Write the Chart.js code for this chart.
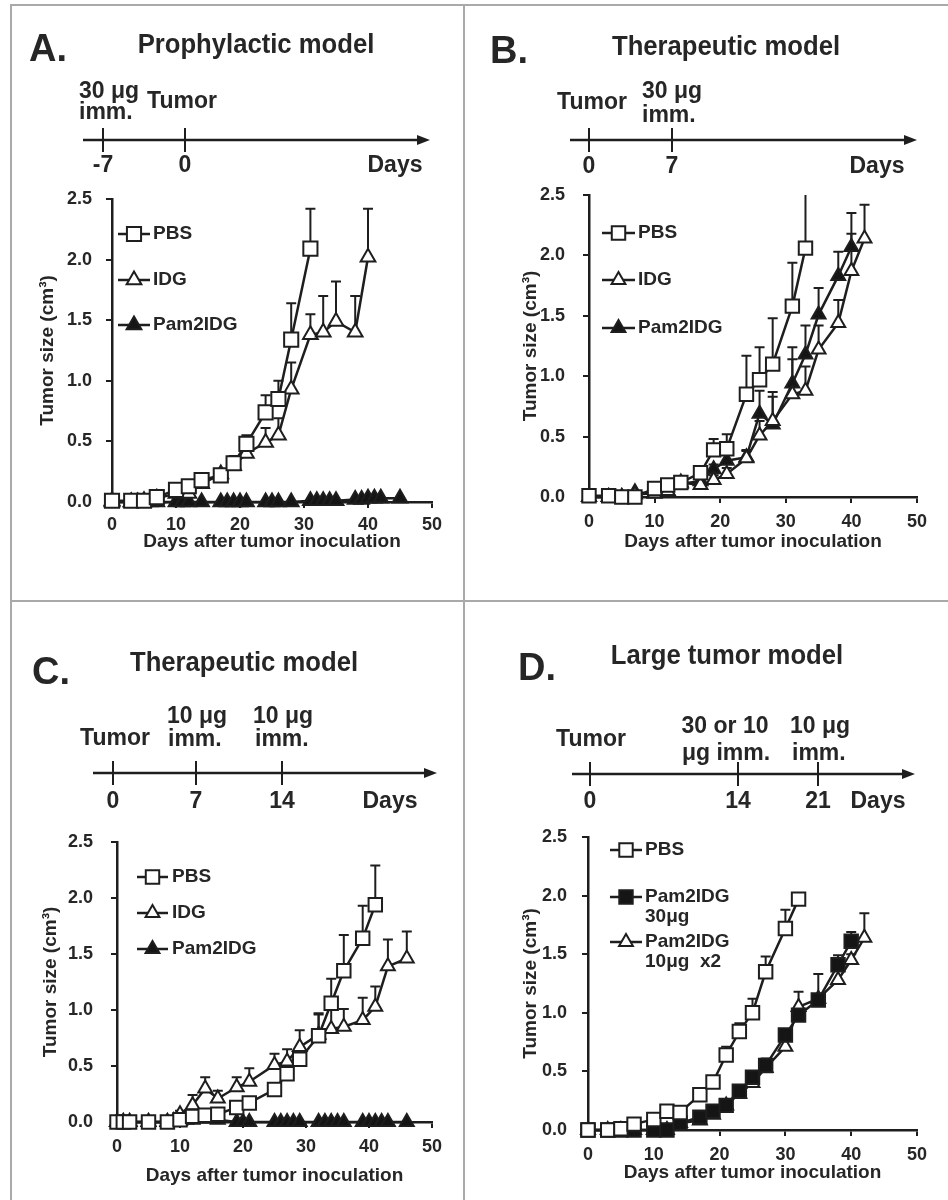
<!DOCTYPE html>
<html>
<head>
<meta charset="utf-8" />
<title>Tumor growth after immunization</title>
<style>
  body { margin: 0; background: #fff; }
  #fig { position: relative; width: 948px; height: 1200px; overflow: hidden; background: #fff; }
  #fig canvas { position: absolute; }
  .rule { position: absolute; background: #a9a9a9; }
  .txt { position: absolute; white-space: pre; line-height: 1; color: #262626;
         font-family: "Liberation Sans", Arial, Helvetica, sans-serif; font-weight: bold;
         transform: translate(-50%, -50%) scaleX(var(--sx, 1)); }
  .txt.left { transform-origin: 0 50%; transform: translate(0, -50%) scaleX(var(--sx, 1)); }
  .letter { font-size: 38px; }
  .title { font-size: 27px; --sx: 0.95; }
  .tl { font-size: 23px; }
</style>
</head>
<body>
<div id="fig">
  <div class="rule" style="left:10px; top:4px; width:938px; height:2px;"></div>
  <div class="rule" style="left:10px; top:4px; width:2px; height:1196px;"></div>
  <div class="rule" style="left:463px; top:4px; width:2px; height:1196px;"></div>
  <div class="rule" style="left:10px; top:600px; width:938px; height:2px;"></div>
</div>

<script src="https://cdn.jsdelivr.net/npm/chart.js"></script>
<script>
// tick labels shared by all four plots
const dayTicks = [0, 10, 20, 30, 40, 50];
const sizeTicks = [0, 0.5, 1.0, 1.5, 2.0, 2.5];

// A. prophylactic model
const daysA = [0, 3, 5, 7, 10, 12, 14, 17, 19, 21, 24, 26, 28, 31, 33, 35, 38, 40];
const pbsA = [0.01, 0.01, 0.01, 0.04, 0.10, 0.13, 0.18, 0.22, 0.32, 0.48, 0.74, 0.85, 1.34, 2.09];
const pbsErrA = [0.01, 0.01, 0.01, 0.01, 0.02, 0.02, 0.03, 0.04, 0.06, 0.07, 0.14, 0.15, 0.30, 0.33];
const idgA = [0.01, 0.00, 0.01, 0.03, 0.07, 0.07, 0.15, 0.23, 0.30, 0.40, 0.49, 0.55, 0.93, 1.38, 1.40, 1.49, 1.40, 2.02];
const idgErrA = [0.01, 0.00, 0.01, 0.01, 0.02, 0.02, 0.03, 0.03, 0.04, 0.05, 0.12, 0.14, 0.22, 0.17, 0.30, 0.33, 0.30, 0.40];
const pamDaysA = [0, 3, 4, 5, 6, 7, 10, 11, 12, 14, 17, 18, 19, 20, 21, 24, 25, 26, 28, 31, 32, 33, 34, 35, 38, 39, 40, 41, 42, 45];
const pamA = [0, 0, 0, 0, 0, 0, 0, 0, 0, 0, 0, 0, 0, 0, 0, 0, 0, 0, 0, 0.01, 0.01, 0.01, 0.01, 0.01, 0.02, 0.02, 0.03, 0.03, 0.03, 0.03];

// B. therapeutic model, 30 ug on day 7
const daysB = [0, 3, 5, 7, 10, 12, 14, 17, 19, 21, 24, 26, 28, 31, 33, 35, 38, 40, 42];
const pbsB = [0.01, 0.01, 0.00, 0.00, 0.07, 0.10, 0.12, 0.20, 0.39, 0.40, 0.85, 0.97, 1.10, 1.58, 2.06];
const pbsErrB = [0.01, 0.01, 0.01, 0.01, 0.02, 0.02, 0.03, 0.04, 0.09, 0.12, 0.32, 0.27, 0.38, 0.36, 0.60];
const idgB = [0, 0, 0, 0.02, 0.03, 0.05, 0.12, 0.10, 0.14, 0.19, 0.32, 0.51, 0.63, 0.85, 0.88, 1.22, 1.44, 1.87, 2.14];
const idgErrB = [0, 0, 0, 0.01, 0.01, 0.02, 0.03, 0.03, 0.04, 0.05, 0.06, 0.12, 0.20, 0.29, 0.20, 0.20, 0.19, 0.31, 0.28];
const pamB = [0, 0, 0, 0.04, 0.03, 0.05, 0.11, 0.13, 0.23, 0.30, 0.33, 0.69, 0.60, 0.94, 1.18, 1.51, 1.83, 2.07];
const pamErrB = [0, 0, 0, 0.01, 0.01, 0.02, 0.03, 0.03, 0.04, 0.05, 0.06, 0.19, 0.27, 0.30, 0.24, 0.22, 0.20, 0.28];

// C. therapeutic model, 10 ug on days 7 and 14
const daysC = [0, 1, 2, 5, 8, 10, 12, 14, 16, 19, 21, 25, 27, 29, 32, 34, 36, 39, 41, 43, 46];
const pbsC = [0, 0, 0, 0, 0, 0.02, 0.05, 0.06, 0.07, 0.13, 0.17, 0.29, 0.43, 0.56, 0.77, 1.06, 1.35, 1.64, 1.94];
const pbsErrC = [0, 0, 0, 0, 0, 0.01, 0.02, 0.02, 0.02, 0.03, 0.03, 0.04, 0.05, 0.07, 0.20, 0.22, 0.32, 0.29, 0.35];
const idgC = [0, 0, 0, 0, 0, 0.07, 0.15, 0.30, 0.21, 0.31, 0.36, 0.51, 0.54, 0.67, 0.78, 0.83, 0.85, 0.91, 1.03, 1.39, 1.46];
const idgErrC = [0, 0, 0, 0, 0, 0.03, 0.09, 0.10, 0.07, 0.09, 0.12, 0.10, 0.11, 0.15, 0.18, 0.18, 0.16, 0.20, 0.18, 0.24, 0.24];
const pamDaysC = [0, 1, 2, 5, 8, 9, 10, 11, 12, 14, 16, 19, 20, 21, 25, 26, 27, 28, 29, 32, 33, 34, 35, 36, 39, 40, 41, 42, 43, 46];
const pamC = [0, 0, 0, 0, 0, 0.01, 0.01, 0.02, 0.02, 0.03, 0.02, 0, 0, 0, 0, 0, 0, 0, 0, 0, 0, 0, 0, 0, 0, 0, 0, 0, 0, 0];

// D. large tumor model
const daysD = [0, 3, 5, 7, 10, 12, 14, 17, 19, 21, 23, 25, 27, 30, 32, 35, 38, 40, 42];
const pbsD = [0, 0, 0.01, 0.05, 0.09, 0.16, 0.15, 0.30, 0.41, 0.64, 0.84, 1.00, 1.35, 1.72, 1.97];
const pbsErrD = [0, 0, 0, 0.01, 0.01, 0.01, 0.02, 0.02, 0.03, 0.07, 0.07, 0.12, 0.13, 0.16, 0.02];
const pam30D = [0, 0, 0, 0, 0, 0, 0.06, 0.11, 0.16, 0.21, 0.33, 0.45, 0.55, 0.81, 0.98, 1.11, 1.41, 1.61];
const pam30ErrD = [0, 0, 0, 0, 0, 0, 0.01, 0.01, 0.01, 0.02, 0.02, 0.03, 0.06, 0.04, 0.04, 0.05, 0.08, 0.08];
const pam10D = [0, 0, 0, 0, 0, 0, 0.06, 0.08, 0.13, 0.21, 0.31, 0.40, 0.53, 0.71, 1.05, 1.12, 1.28, 1.45, 1.64];
const pam10ErrD = [0, 0, 0, 0, 0, 0, 0.01, 0.01, 0.02, 0.02, 0.03, 0.03, 0.07, 0.06, 0.13, 0.21, 0.10, 0.05, 0.21];

const INK = '#1e1e1e';
const TEXT = '#262626';
const FAMILY = '"Liberation Sans", Arial, Helvetica, sans-serif';
Chart.defaults.font.family = FAMILY;
Chart.defaults.font.weight = 'bold';
Chart.defaults.color = TEXT;

const fig = document.getElementById('fig');

function pts(days, vals) {
    return vals.map((v, i) => ({ x: days[i], y: v }));
}

function series(label, days, vals, errs, style, filled, radius) {
    return {
        label: label,
        data: pts(days, vals),
        errors: errs,
        borderColor: INK,
        borderWidth: 2.5,
        pointStyle: style,
        pointRadius: radius,
        pointBorderWidth: 2,
        pointBorderColor: INK,
        pointBackgroundColor: filled ? '#151515' : '#ffffff',
        tension: 0,
        clip: false
    };
}

// upper SD bars, drawn under the markers
const errorBars = {
    id: 'errorBars',
    beforeDatasetsDraw(chart) {
        const { ctx, chartArea } = chart;
        const xs = chart.scales.x, ys = chart.scales.y;
        ctx.save();
        ctx.strokeStyle = INK;
        ctx.lineWidth = 2;
        chart.data.datasets.forEach(ds => {
            if (!ds.errors) return;
            ds.data.forEach((p, i) => {
                const e = ds.errors[i];
                if (!e) return;
                const px = xs.getPixelForValue(p.x);
                const y0 = ys.getPixelForValue(p.y);
                let y1 = ys.getPixelForValue(p.y + e);
                const capped = y1 >= chartArea.top;
                if (!capped) y1 = chartArea.top;
                ctx.beginPath();
                ctx.moveTo(px, y0);
                ctx.lineTo(px, y1);
                if (capped) {
                    ctx.moveTo(px - 5, y1);
                    ctx.lineTo(px + 5, y1);
                }
                ctx.stroke();
            });
        });
        ctx.restore();
    }
};

function marker(ctx, style, r, cx, cy) {
    ctx.beginPath();
    if (style === 'rect') {
        const s = r * Math.SQRT1_2;
        ctx.rect(cx - s, cy - s, 2 * s, 2 * s);
    } else {
        ctx.moveTo(cx, cy - r);
        ctx.lineTo(cx + r * 0.866, cy + r * 0.5);
        ctx.lineTo(cx - r * 0.866, cy + r * 0.5);
        ctx.closePath();
    }
    ctx.fill();
    ctx.stroke();
}

// legend inside the plot: line - marker - line, then the name
const inLegend = {
    id: 'inLegend',
    afterDatasetsDraw(chart, args, o) {
        const ctx = chart.ctx;
        ctx.save();
        ctx.font = 'bold 19px ' + FAMILY;
        ctx.textBaseline = 'middle';
        o.items.forEach(it => {
            const ds = chart.data.datasets[it.index];
            const y = it.y - o.oy;
            const x0 = o.x0 - o.ox, x1 = o.x1 - o.ox;
            ctx.strokeStyle = INK;
            ctx.lineWidth = ds.borderWidth;
            ctx.beginPath();
            ctx.moveTo(x0, y);
            ctx.lineTo(x1, y);
            ctx.stroke();
            ctx.lineWidth = ds.pointBorderWidth;
            ctx.fillStyle = ds.pointBackgroundColor;
            marker(ctx, ds.pointStyle, ds.pointRadius, (x0 + x1) / 2, y);
            ctx.fillStyle = TEXT;
            ds.label.split('\n').forEach((line, k) => {
                ctx.fillText(line, o.tx - o.ox, y + k * o.gap);
            });
        });
        ctx.restore();
    }
};

// treatment schedule arrow above each plot
const timeline = {
    id: 'timeline',
    afterDraw(chart, args, o) {
        const ctx = chart.ctx;
        const y = o.y - o.oy;
        const x0 = o.x0 - o.ox, x1 = o.x1 - o.ox;
        ctx.save();
        ctx.strokeStyle = INK;
        ctx.fillStyle = INK;
        ctx.lineWidth = 2.5;
        ctx.beginPath();
        ctx.moveTo(x0, y);
        ctx.lineTo(x1 - 8, y);
        ctx.stroke();
        ctx.beginPath();
        ctx.moveTo(x1, y);
        ctx.lineTo(x1 - 13, y - 5);
        ctx.lineTo(x1 - 13, y + 5);
        ctx.closePath();
        ctx.fill();
        ctx.lineWidth = 2;
        o.marks.forEach(m => {
            ctx.beginPath();
            ctx.moveTo(m - o.ox, y - 12);
            ctx.lineTo(m - o.ox, y + 12);
            ctx.stroke();
        });
        ctx.restore();
    }
};

function text(str, x, y, cls, left) {
    const el = document.createElement('span');
    el.className = 'txt ' + cls + (left ? ' left' : '');
    el.textContent = str;
    el.style.left = x + 'px';
    el.style.top = y + 'px';
    fig.appendChild(el);
}

function makePanel(p) {
    const [cx, cy, cw, ch] = p.box;
    const [L, T, R, B] = p.area;
    const cv = document.createElement('canvas');
    cv.width = cw;
    cv.height = ch;
    cv.style.left = cx + 'px';
    cv.style.top = cy + 'px';
    cv.style.width = cw + 'px';
    cv.style.height = ch + 'px';
    fig.appendChild(cv);

    p.legend.ox = cx;
    p.legend.oy = cy;
    p.timeline.ox = cx;
    p.timeline.oy = cy;

    return new Chart(cv, {
        type: 'line',
        data: { datasets: p.datasets },
        plugins: [errorBars, inLegend, timeline],
        options: {
            responsive: false,
            animation: false,
            events: [],
            layout: {
                padding: { left: 0, top: T - cy, right: cx + cw - R, bottom: cy + ch - B - p.xTitleH }
            },
            plugins: {
                legend: { display: false },
                tooltip: { enabled: false },
                inLegend: p.legend,
                timeline: p.timeline
            },
            scales: {
                x: {
                    type: 'linear',
                    min: 0,
                    max: 50,
                    afterBuildTicks: s => { s.ticks = dayTicks.map(v => ({ value: v })); },
                    afterFit: s => { s.height = p.xTitleH; },
                    ticks: { font: { size: 18, weight: 'bold' }, color: TEXT, padding: p.xPad, maxRotation: 0, autoSkip: false },
                    grid: { drawOnChartArea: false, drawTicks: true, tickLength: 6, color: INK, lineWidth: 2 },
                    border: { color: INK, width: 2.5 },
                    title: {
                        display: true,
                        text: 'Days after tumor inoculation',
                        font: { size: 19, weight: 'bold' },
                        color: TEXT,
                        padding: { top: 0, bottom: 0 }
                    }
                },
                y: {
                    min: 0,
                    max: 2.5,
                    afterBuildTicks: s => { s.ticks = sizeTicks.map(v => ({ value: v })); },
                    afterFit: s => { s.width = L - cx; },
                    ticks: { font: { size: 18, weight: 'bold' }, color: TEXT, padding: p.yPad, callback: v => v.toFixed(1) },
                    grid: { drawOnChartArea: false, drawTicks: true, tickLength: 6, color: INK, lineWidth: 2 },
                    border: { color: INK, width: 2.5 },
                    title: {
                        display: true,
                        text: 'Tumor size (cm³)',
                        font: { size: 19, weight: 'bold' },
                        color: TEXT,
                        padding: { top: p.yTitleX - cx - 11.4, bottom: 0 }
                    }
                }
            }
        }
    });
}

// ---- panel A ----
makePanel({
    box: [0, 0, 464, 600],
    area: [112, 199, 432, 502],
    xPad: 6, yPad: 14, xTitleH: 51.4, yTitleX: 48,
    datasets: [
        series('PBS', daysA, pbsA, pbsErrA, 'rect', false, 10),
        series('IDG', daysA, idgA, idgErrA, 'triangle', false, 8.5),
        series('Pam2IDG', pamDaysA, pamA, null, 'triangle', true, 8.5)
    ],
    legend: { x0: 118, x1: 150, tx: 153, gap: 20, items: [{ index: 0, y: 234 }, { index: 1, y: 280 }, { index: 2, y: 325 }] },
    timeline: { y: 140, x0: 83, x1: 430, marks: [103, 185] }
});
text('A.', 29, 48, 'letter', true);
text('Prophylactic model', 256, 44, 'title');
text('30 μg', 79, 90, 'tl', true);
text('imm.', 79, 111, 'tl', true);
text('Tumor', 182, 100, 'tl');
text('-7', 103, 164, 'tl');
text('0', 185, 164, 'tl');
text('Days', 395, 164, 'tl');

// ---- panel B ----
makePanel({
    box: [464, 0, 484, 600],
    area: [589, 195, 917, 497],
    xPad: 8, yPad: 18, xTitleH: 56.4, yTitleX: 531,
    datasets: [
        series('PBS', daysB, pbsB, pbsErrB, 'rect', false, 9.5),
        series('IDG', daysB, idgB, idgErrB, 'triangle', false, 8),
        series('Pam2IDG', daysB, pamB, pamErrB, 'triangle', true, 8)
    ],
    legend: { x0: 602, x1: 635, tx: 638, gap: 20, items: [{ index: 0, y: 233 }, { index: 1, y: 280 }, { index: 2, y: 328 }] },
    timeline: { y: 140, x0: 570, x1: 917, marks: [589, 672] }
});
text('B.', 490, 50, 'letter', true);
text('Therapeutic model', 726, 46, 'title');
text('Tumor', 592, 101, 'tl');
text('30 μg', 642, 90, 'tl', true);
text('imm.', 642, 114, 'tl', true);
text('0', 589, 165, 'tl');
text('7', 672, 165, 'tl');
text('Days', 877, 165, 'tl');

// ---- panel C ----
makePanel({
    box: [0, 600, 464, 600],
    area: [117, 842, 432, 1122],
    xPad: 8, yPad: 18, xTitleH: 65.4, yTitleX: 51,
    datasets: [
        series('PBS', daysC, pbsC, pbsErrC, 'rect', false, 9.5),
        series('IDG', daysC, idgC, idgErrC, 'triangle', false, 8),
        series('Pam2IDG', pamDaysC, pamC, null, 'triangle', true, 8)
    ],
    legend: { x0: 137, x1: 168, tx: 172, gap: 20, items: [{ index: 0, y: 877 }, { index: 1, y: 913 }, { index: 2, y: 949 }] },
    timeline: { y: 773, x0: 93, x1: 437, marks: [113, 196, 282] }
});
text('C.', 32, 671, 'letter', true);
text('Therapeutic model', 244, 662, 'title');
text('Tumor', 115, 737, 'tl');
text('10 μg', 167, 715, 'tl', true);
text('imm.', 168, 738, 'tl', true);
text('10 μg', 253, 715, 'tl', true);
text('imm.', 255, 738, 'tl', true);
text('0', 113, 800, 'tl');
text('7', 196, 800, 'tl');
text('14', 282, 800, 'tl');
text('Days', 390, 800, 'tl');

// ---- panel D ----
makePanel({
    box: [464, 600, 484, 600],
    area: [588, 837, 917, 1130],
    xPad: 8, yPad: 15, xTitleH: 54.4, yTitleX: 531,
    datasets: [
        series('PBS', daysD, pbsD, pbsErrD, 'rect', false, 9.5),
        series('Pam2IDG\n30μg', daysD, pam30D, pam30ErrD, 'rect', true, 9.5),
        series('Pam2IDG\n10μg  x2', daysD, pam10D, pam10ErrD, 'triangle', false, 8)
    ],
    legend: { x0: 610, x1: 642, tx: 645, gap: 20, items: [{ index: 0, y: 850 }, { index: 1, y: 897 }, { index: 2, y: 942 }] },
    timeline: { y: 774, x0: 572, x1: 915, marks: [590, 738, 818] }
});
text('D.', 518, 667, 'letter', true);
text('Large tumor model', 727, 655, 'title');
text('Tumor', 591, 738, 'tl');
text('30 or 10', 725, 725, 'tl');
text('μg imm.', 726, 752, 'tl');
text('10 μg', 790, 725, 'tl', true);
text('imm.', 792, 752, 'tl', true);
text('0', 590, 800, 'tl');
text('14', 738, 800, 'tl');
text('21', 818, 800, 'tl');
text('Days', 878, 800, 'tl');
</script>
</body>
</html>
